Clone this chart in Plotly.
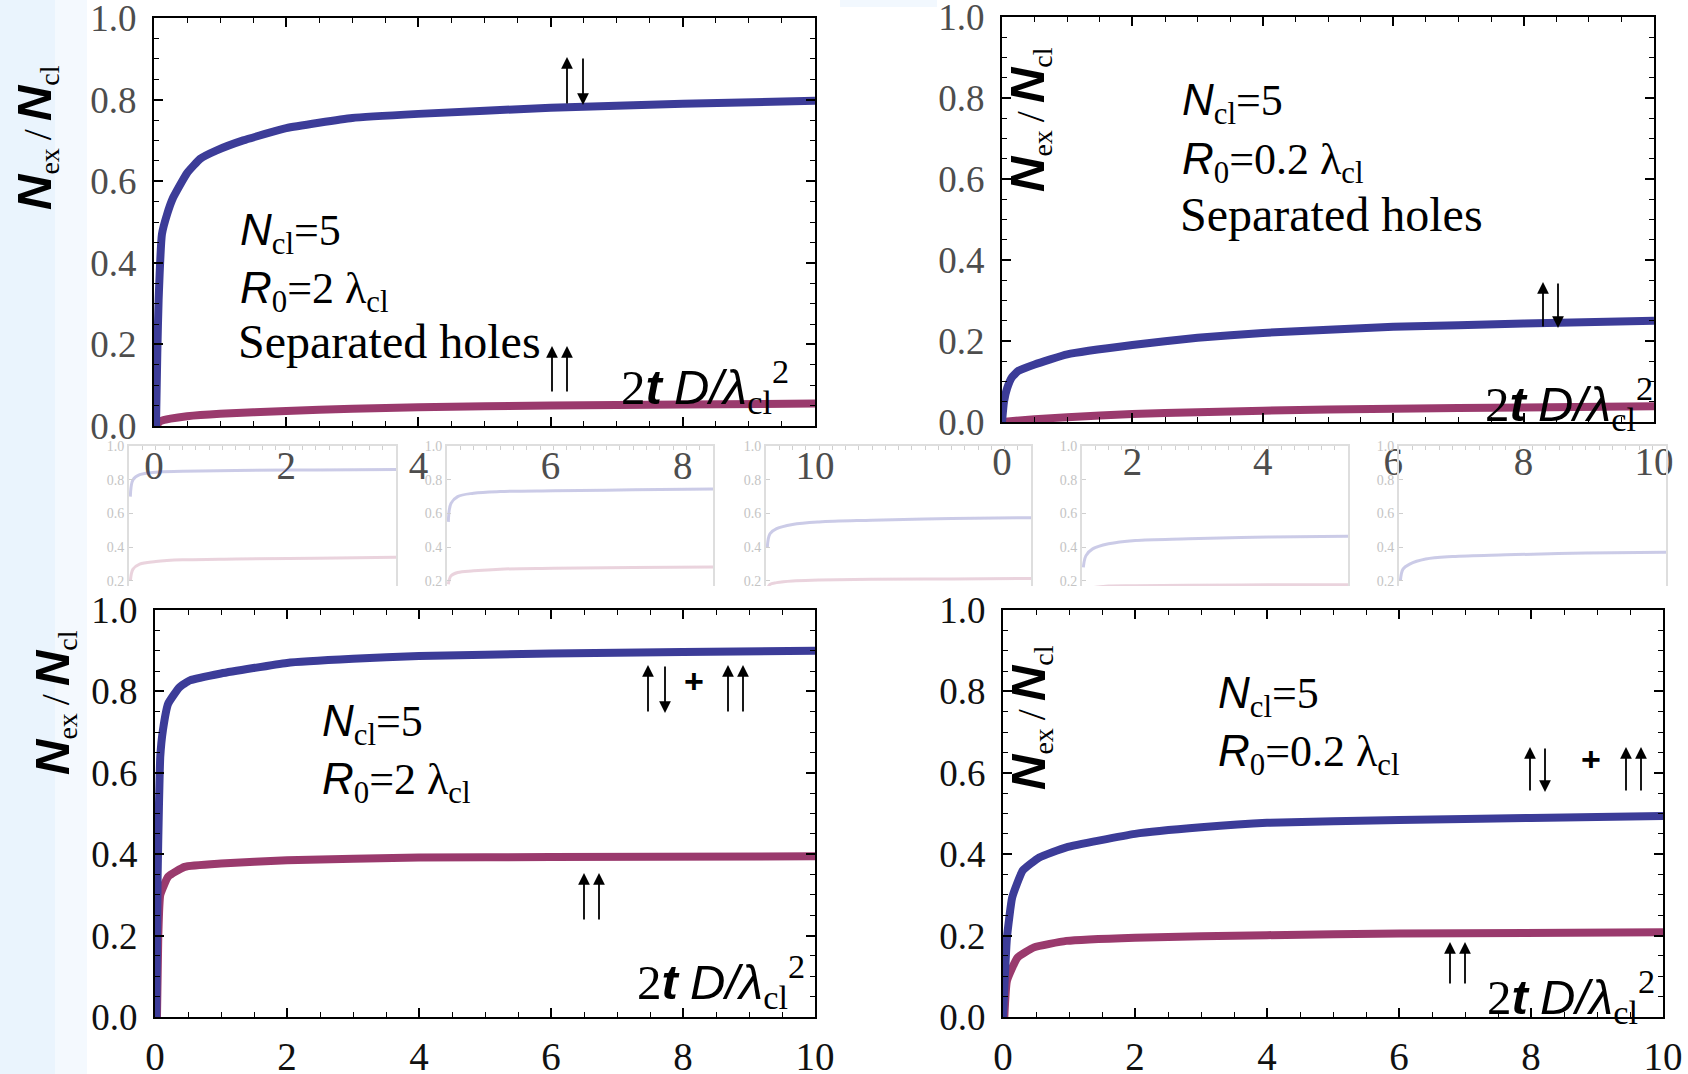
import plotly.graph_objects as go

W, H = 1688, 1074

# ---------------- data: excitation fraction N_ex/N_cl vs 2tD/lambda_cl^2 ----------------
# top-left: N_cl=5, R0=2 lambda_cl, separated holes
t_tl_blue = [0.03, 0.05, 0.07, 0.12, 0.2, 0.29, 0.5, 0.7, 0.94, 1.35, 2, 3, 4, 6, 8, 10]
blue_tl = [0.0, 0.18, 0.31, 0.47, 0.52, 0.56, 0.62, 0.655, 0.675, 0.70, 0.73, 0.755, 0.765, 0.78, 0.79, 0.797]
t_tl_mag = [0.02, 0.1, 0.25, 0.5, 1, 2, 3, 4, 6, 8, 10]
mag_tl = [0.0, 0.012, 0.018, 0.024, 0.03, 0.037, 0.042, 0.046, 0.05, 0.053, 0.055]

# top-right: N_cl=5, R0=0.2 lambda_cl, separated holes
t_tr_blue = [0, 0.03, 0.08, 0.15, 0.25, 0.5, 1, 2, 3, 4, 6, 8, 10]
blue_tr = [0.0, 0.05, 0.084, 0.11, 0.126, 0.142, 0.167, 0.19, 0.208, 0.22, 0.235, 0.243, 0.25]
t_tr_mag = [0, 0.5, 1, 2, 3, 4, 6, 8, 10]
mag_tr = [0.0, 0.007, 0.012, 0.02, 0.024, 0.028, 0.033, 0.036, 0.039]

# bottom-left: N_cl=5, R0=2 lambda_cl
t_bl_blue = [0.02, 0.04, 0.06, 0.08, 0.12, 0.2, 0.37, 0.53, 1, 2, 3, 4, 6, 8, 10]
blue_bl = [0.0, 0.35, 0.52, 0.64, 0.705, 0.77, 0.81, 0.827, 0.844, 0.87, 0.88, 0.887, 0.893, 0.897, 0.90]
t_bl_mag = [0.03, 0.05, 0.08, 0.2, 0.45, 1, 2, 4, 6, 10]
mag_bl = [0.0, 0.2, 0.30, 0.345, 0.369, 0.377, 0.385, 0.392, 0.393, 0.395]

# bottom-right: N_cl=5, R0=0.2 lambda_cl
t_br_blue = [0, 0.06, 0.14, 0.3, 0.55, 0.96, 2, 3, 4, 6, 8, 10]
blue_br = [0.0, 0.195, 0.294, 0.36, 0.392, 0.417, 0.45, 0.466, 0.477, 0.484, 0.489, 0.494]
t_br_mag = [0.02, 0.06, 0.22, 0.47, 0.96, 2, 4, 6, 10]
mag_br = [0.0, 0.089, 0.146, 0.171, 0.187, 0.195, 0.201, 0.205, 0.208]

# faded small panels in the middle strip
thumb_t = [0.05, 0.15, 0.4, 1, 2, 4, 7, 10]
thumb_blue = [
    [0.70, 0.80, 0.83, 0.845, 0.85, 0.855, 0.858, 0.86],
    [0.55, 0.66, 0.70, 0.72, 0.73, 0.735, 0.74, 0.745],
    [0.40, 0.48, 0.51, 0.535, 0.55, 0.56, 0.57, 0.575],
    [0.28, 0.35, 0.39, 0.42, 0.44, 0.45, 0.46, 0.465],
    [0.20, 0.27, 0.30, 0.33, 0.345, 0.355, 0.365, 0.37],
]
thumb_pink = [
    [0.20, 0.27, 0.30, 0.315, 0.325, 0.33, 0.335, 0.34],
    [0.18, 0.23, 0.25, 0.26, 0.27, 0.275, 0.28, 0.283],
    [0.15, 0.18, 0.19, 0.20, 0.205, 0.21, 0.212, 0.215],
    [0.12, 0.15, 0.16, 0.17, 0.172, 0.175, 0.177, 0.178],
    [0.08, 0.10, 0.11, 0.12, 0.125, 0.13, 0.13, 0.13],
]

x_ticks = [0, 2, 4, 6, 8, 10]
y_ticks = [0.0, 0.2, 0.4, 0.6, 0.8, 1.0]

BLUE = "#3c3c98"
MAGENTA = "#9a3a6d"
SERIF = "Liberation Serif"


def px(x):
    return x / W


def py(y):
    return 1 - y / H


fig = go.Figure()

# ---------------- main panels ----------------
panels = [
    # (axis suffix, x-domain px, y-domain px, label colour, data)
    ("", (154, 815), (18, 426), "#4d4d4d", (t_tl_blue, blue_tl, t_tl_mag, mag_tl)),
    ("2", (1002, 1654), (17, 422), "#4d4d4d", (t_tr_blue, blue_tr, t_tr_mag, mag_tr)),
    ("3", (155, 815), (610, 1017), "#111111", (t_bl_blue, blue_bl, t_bl_mag, mag_bl)),
    ("4", (1003, 1663), (610, 1017), "#111111", (t_br_blue, blue_br, t_br_mag, mag_br)),
]

layout_axes = {}
for suf, xd, yd, lc, (tb, yb, tm, ym) in panels:
    xa = "x" + suf
    ya = "y" + suf
    fig.add_trace(go.Scatter(x=tm, y=ym, mode="lines", xaxis=xa, yaxis=ya,
                             line=dict(color=MAGENTA, width=8, shape="spline", smoothing=0.4),
                             hoverinfo="skip"))
    fig.add_trace(go.Scatter(x=tb, y=yb, mode="lines", xaxis=xa, yaxis=ya,
                             line=dict(color=BLUE, width=8, shape="spline", smoothing=0.4),
                             hoverinfo="skip"))
    common = dict(showline=True, linecolor="black", linewidth=2, mirror="ticks",
                  ticks="inside", tickcolor="black", tickwidth=1.5, ticklen=9,
                  showgrid=False, zeroline=False, automargin=False,
                  ticklabeloverflow="allow")
    layout_axes["xaxis" + suf] = dict(
        domain=[px(xd[0]), px(xd[1])], anchor=ya, range=[0, 10],
        tickvals=x_ticks, ticktext=[str(v) for v in x_ticks],
        minor=dict(dtick=0.5, tick0=0, ticks="inside", ticklen=5, tickcolor="black", tickwidth=1.2),
        tickfont=dict(family=SERIF, size=39, color=lc), ticklabelstandoff=4, **common)
    layout_axes["yaxis" + suf] = dict(
        domain=[py(yd[1]), py(yd[0])], anchor=xa, range=[0, 1],
        tickvals=y_ticks, ticktext=["%.1f" % v for v in y_ticks],
        minor=dict(dtick=0.05, tick0=0, ticks="inside", ticklen=5, tickcolor="black", tickwidth=1.2),
        tickfont=dict(family=SERIF, size=37, color=lc), ticklabelstandoff=8, **common)

# ---------------- faded small panels ----------------
thumb_x = [(129, 396), (447, 713), (766, 1031), (1082, 1348), (1399, 1666)]
for i, (x0, x1) in enumerate(thumb_x):
    n = str(5 + i)
    xa, ya = "x" + n, "y" + n
    fig.add_trace(go.Scatter(x=thumb_t, y=thumb_pink[i], mode="lines", xaxis=xa, yaxis=ya,
                             line=dict(color="rgba(170,80,120,0.25)", width=3, shape="spline"),
                             hoverinfo="skip"))
    fig.add_trace(go.Scatter(x=thumb_t, y=thumb_blue[i], mode="lines", xaxis=xa, yaxis=ya,
                             line=dict(color="rgba(70,70,170,0.28)", width=3, shape="spline"),
                             hoverinfo="skip"))
    layout_axes["xaxis" + n] = dict(
        domain=[px(x0), px(x1)], anchor=ya, range=[0, 10], side="top",
        showline=True, linecolor="#dedede", linewidth=2, showticklabels=False,
        ticks="inside", tickcolor="#cfcfcf", ticklen=4, dtick=0.5,
        showgrid=False, zeroline=False, automargin=False)
    layout_axes["yaxis" + n] = dict(
        domain=[py(586), py(446)], anchor=xa, range=[0.17, 1.0],
        showline=True, linecolor="#dedede", linewidth=2, mirror=True,
        ticks="inside", tickcolor="#cfcfcf", ticklen=4,
        tickvals=[0.2, 0.4, 0.6, 0.8, 1.0], ticktext=["0.2", "0.4", "0.6", "0.8", "1.0"],
        tickfont=dict(family=SERIF, size=14, color="#c4c4c4"),
        showgrid=False, zeroline=False, automargin=False)

# ---------------- text ----------------
SANS_I = '<span style="font-family:Liberation Sans"><i>{}</i></span>'
SANS_BI = '<span style="font-family:Liberation Sans"><b><i>{}</i></b></span>'
BIG_N = '<span style="font-family:Liberation Sans;font-size:49px"><b><i>N</i></b></span>'

ncl = SANS_I.format("N") + "<sub>cl</sub>=5"
r0_2 = SANS_I.format("R") + "<sub>0</sub>=2 λ<sub>cl</sub>"
r0_02 = SANS_I.format("R") + "<sub>0</sub>=0.2 λ<sub>cl</sub>"
xlab = "2" + SANS_BI.format("t") + " " + SANS_I.format("D/λ") + "<sub>cl</sub><sup>2</sup>"
ytitle = BIG_N + "<sub>ex</sub>\u2009/\u2009" + BIG_N + "<sub>cl</sub>"

annotations = []


def text(x, y, s, size=44, anchor="left", angle=0):
    annotations.append(dict(x=px(x), y=py(y), xref="paper", yref="paper", text=s,
                            showarrow=False, xanchor=anchor, yanchor="middle",
                            textangle=angle,
                            font=dict(family=SERIF, size=size, color="black")))


def arrow(x, y_head, y_tail):
    annotations.append(dict(x=px(x), y=py(y_head), xref="paper", yref="paper", text="",
                            showarrow=True, ax=0, ay=y_tail - y_head,
                            arrowhead=2, arrowsize=1.3, arrowwidth=1.8,
                            arrowcolor="black", standoff=0, startstandoff=0))


def up_down(x_up, x_down, top, bottom):
    arrow(x_up, top, bottom)
    arrow(x_down, bottom, top)


def up_up(x1, x2, top, bottom):
    arrow(x1, top, bottom)
    arrow(x2, top, bottom)


def plus(x, y):
    annotations.append(dict(x=px(x), y=py(y), xref="paper", yref="paper", text="<b>+</b>",
                            showarrow=False, xanchor="center", yanchor="middle",
                            font=dict(family="Liberation Sans", size=34, color="black")))


# top-left
text(238, 233, ncl)
text(238, 291, r0_2)
text(236, 342, "Separated holes", size=48)
text(619, 386, xlab, size=49)
up_down(567, 583, 57, 105)
up_up(552, 567, 346, 393)
text(36, 138, ytitle, anchor="center", size=40, angle=-90)

# top-right
text(1180, 103, ncl)
text(1180, 162, r0_02)
text(1178, 214, "Separated holes", size=48)
text(1483, 403, xlab, size=49)
up_down(1543, 1558, 282, 328)
text(1029, 120, ytitle, anchor="center", size=40, angle=-90)

# bottom-left
text(320, 724, ncl)
text(320, 782, r0_2)
text(635, 981, xlab, size=49)
up_down(648, 665, 665, 713)
plus(694, 681)
up_up(728, 743, 665, 713)
up_up(584, 599, 873, 921)
text(54, 702, ytitle, anchor="center", size=40, angle=-90)

# bottom-right
text(1216, 696, ncl)
text(1216, 754, r0_02)
text(1485, 996, xlab, size=49)
up_down(1530, 1545, 747, 792)
plus(1591, 759)
up_up(1626, 1641, 747, 792)
up_up(1450, 1465, 942, 985)
text(1030, 718, ytitle, anchor="center", size=40, angle=-90)

# ---------------- background bands ----------------
shapes = [
    dict(type="rect", xref="paper", yref="paper", x0=0, x1=px(55), y0=0, y1=1,
         fillcolor="#eaf4fd", line=dict(width=0), layer="below"),
    dict(type="rect", xref="paper", yref="paper", x0=px(55), x1=px(87), y0=0, y1=1,
         fillcolor="#f4f9fe", line=dict(width=0), layer="below"),
    dict(type="rect", xref="paper", yref="paper", x0=px(840), x1=px(937), y0=py(7), y1=1,
         fillcolor="#f2f8fe", line=dict(width=0), layer="below"),
]

fig.update_layout(
    width=W, height=H, margin=dict(l=0, r=0, t=0, b=0),
    paper_bgcolor="white", plot_bgcolor="rgba(255,255,255,0)",
    showlegend=False, annotations=annotations, shapes=shapes,
    **layout_axes,
)

fig.write_html("out.html")
